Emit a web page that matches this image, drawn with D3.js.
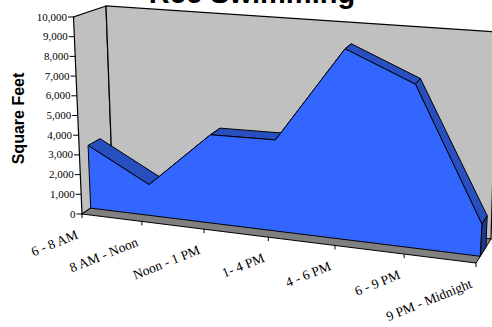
<!DOCTYPE html>
<html>
<head>
<meta charset="utf-8">
<script src="https://cdn.jsdelivr.net/npm/d3@7"></script>
<style>
body { margin: 0; background: #fff; overflow: hidden; }
svg { display: block; }
</style>
</head>
<body>
<svg id="chart" width="492" height="327"></svg>
<script>
const categories = ['6 - 8 AM', '8 AM - Noon', 'Noon - 1 PM', '1- 4 PM', '4 - 6 PM', '6 - 9 PM', '9 PM - Midnight'];
const squareFeet = [3230, 1560, 4400, 4460, 9170, 7730, 1490];
const yTicks = [0, 1000, 2000, 3000, 4000, 5000, 6000, 7000, 8000, 9000, 10000];

const svg = d3.select('#chart');

// corners of the 3d box as drawn, [x, y] on the page
const box = {
    fbl: [82, 214], ftl: [73.5, 17], bbl: [113, 193], btl: [106, 6],
    fbr: [476, 263], ftr: [490, 45], bbr: [491, 239], btr: [497, 32]
};

const x = d3.scalePoint().domain(categories).range([0, 1]);
const y = d3.scaleLinear().domain([0, 10000]).range([0, 1]);

// the far end of the axis is squeezed less than the near end
const stretch = t => t / (t + 1.115 * (1 - t));
const mix = (a, b, k) => [a[0] + (b[0] - a[0]) * k, a[1] + (b[1] - a[1]) * k];

function project(t, v, d) {
    let u = stretch(t);
    let fb = mix(box.fbl, box.fbr, u), ft = mix(box.ftl, box.ftr, u);
    let bb = mix(box.bbl, box.bbr, u), bt = mix(box.btl, box.btr, u);
    return mix(mix(fb, ft, v), mix(bb, bt, v), d);
}

const poly = pts => d3.line()(pts) + 'Z';
const front = 0.28, back = 0.66;

// walls and floor
svg.append('path').attr('d', poly([box.fbl, box.ftl, box.btl, box.bbl]))
    .attr('fill', '#c0c0c0').attr('stroke', '#000').attr('stroke-width', 1.2);
svg.append('path').attr('d', poly([box.bbl, box.btl, box.btr, box.bbr]))
    .attr('fill', '#c0c0c0').attr('stroke', '#000').attr('stroke-width', 1.2);
svg.append('path').attr('d', poly([box.fbl, box.fbr, box.bbr, box.bbl]))
    .attr('fill', '#808080').attr('stroke', '#000').attr('stroke-width', 1);

// y axis ticks along the front edge
let yAxis = svg.append('g').attr('class', 'y-axis');
yTicks.forEach(tick => {
    let p = project(0, y(tick), 0);
    yAxis.append('line')
        .attr('x1', p[0] - 5.5).attr('y1', p[1]).attr('x2', p[0]).attr('y2', p[1])
        .attr('stroke', '#000').attr('stroke-width', 1);
    yAxis.append('text')
        .attr('x', p[0] - 6.5).attr('y', p[1] + 3.5)
        .attr('text-anchor', 'end')
        .attr('font-family', '"Liberation Serif"').attr('font-size', 11)
        .attr('fill', '#000')
        .text(d3.format(',')(tick));
});

// x axis ticks and slanted labels
let xAxis = svg.append('g').attr('class', 'x-axis');
categories.forEach(c => {
    let p = project(x(c), 0, 0);
    xAxis.append('line')
        .attr('x1', p[0]).attr('y1', p[1]).attr('x2', p[0]).attr('y2', p[1] + 4)
        .attr('stroke', '#000').attr('stroke-width', 1);
    xAxis.append('text')
        .attr('transform', `translate(${p[0] - 3},${p[1] + 24}) rotate(-22)`)
        .attr('text-anchor', 'end')
        .attr('font-family', '"Liberation Serif"').attr('font-size', 13.5)
        .attr('fill', '#000')
        .text(c);
});

// series: top strips, side, front face
const ridge = categories.map((c, i) => ({
    f: project(x(c), y(squareFeet[i]), front),
    b: project(x(c), y(squareFeet[i]), back)
}));
const last = categories[categories.length - 1];

for (let i = 1; i < ridge.length; i++) {
    svg.append('path').attr('d', poly([ridge[i - 1].f, ridge[i].f, ridge[i].b, ridge[i - 1].b]))
        .attr('fill', '#284fc0').attr('stroke', '#000').attr('stroke-width', 1);
}
svg.append('path')
    .attr('d', poly([project(1, 0, front), ridge[6].f, ridge[6].b, project(1, 0, back)]))
    .attr('fill', '#1c3a90').attr('stroke', '#000').attr('stroke-width', 1);

let frontPts = ridge.map(d => d.f);
frontPts.push(project(x(last), 0, front), project(0, 0, front));
svg.append('path').attr('d', poly(frontPts))
    .attr('fill', '#3366ff').attr('stroke', '#000').attr('stroke-width', 1);

// titles
svg.append('text')
    .attr('x', 252).attr('y', 2.5)
    .attr('text-anchor', 'middle')
    .attr('font-family', '"Liberation Sans"').attr('font-weight', 'bold').attr('font-size', 29)
    .attr('fill', '#000')
    .text('Rec Swimming');
svg.append('text')
    .attr('transform', 'translate(23.5,118.5) rotate(-90)')
    .attr('text-anchor', 'middle')
    .attr('font-family', '"Liberation Sans"').attr('font-weight', 'bold').attr('font-size', 16)
    .attr('fill', '#000')
    .text('Square Feet');
</script>
</body>
</html>
